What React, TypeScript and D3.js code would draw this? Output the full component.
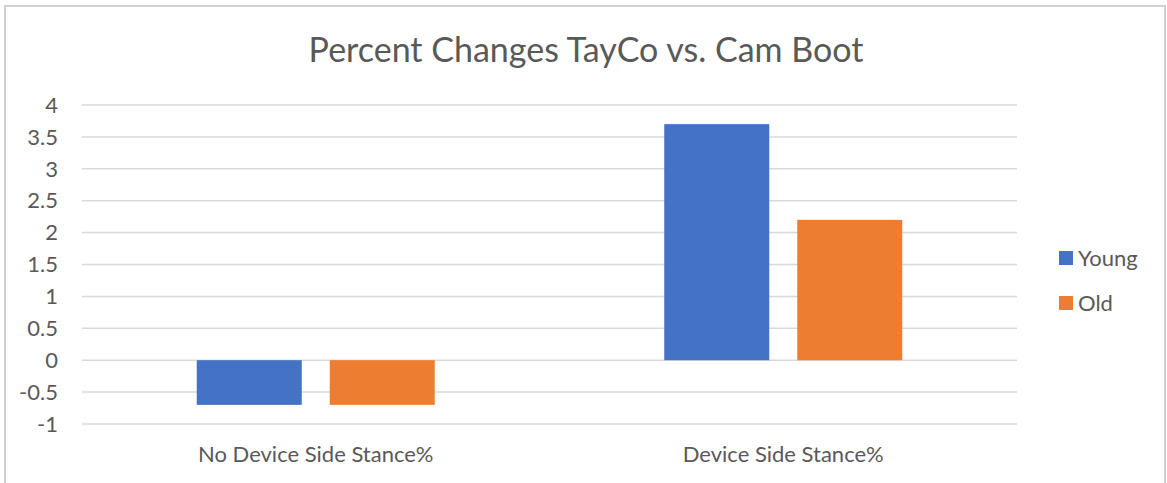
import React from "react";
import * as d3 from "d3";

const categories = ["No Device Side Stance%", "Device Side Stance%"];
const seriesNames = ["Young", "Old"];
const youngValues = [-0.7, 3.7];
const oldValues = [-0.7, 2.2];
const seriesColors = ["#4472C4", "#ED7D31"];
const yTicks = [-1, -0.5, 0, 0.5, 1, 1.5, 2, 2.5, 3, 3.5, 4];

const W = 1167;
const H = 483;
const FONT = "Lato, Carlito, Open Sans, sans-serif";

export default function App() {
  const x = d3.scaleBand<string>().domain(categories).range([82, 1017]).paddingInner(0).paddingOuter(0);
  const y = d3.scaleLinear().domain([-1, 4]).range([424, 105]);
  const groupW = 238;
  const values = [youngValues, oldValues];
  const barW = 105;
  const gap = 28;
  return (
    <div style={{ position: "absolute", left: 0, top: 0 }}>
      <svg width={W} height={H} style={{ display: "block", background: "#fff" }}>
        <rect x={5} y={6} width={1160} height={490} fill="#fff" stroke="#d0d0d0" strokeWidth={2} />
        <text x={586} y={62} textAnchor="middle" fontFamily={FONT} fontSize={34} fill="#595959">
          Percent Changes TayCo vs. Cam Boot
        </text>
        {yTicks.map((t) => (
          <g key={t}>
            <line x1={82} x2={1017} y1={y(t)} y2={y(t)} stroke="#d9d9d9" strokeWidth={1.5} />
            <text x={58} y={y(t)} dy="0.35em" textAnchor="end" fontFamily={FONT} fontSize={22} fill="#595959">
              {t}
            </text>
          </g>
        ))}
        {categories.map((c, ci) => {
          const gx = (x(c) as number) + x.bandwidth() / 2 - groupW / 2;
          return (
            <g key={c}>
              {seriesNames.map((s, si) => {
                const v = values[si][ci];
                const bx = gx + si * (barW + gap);
                return (
                  <rect
                    key={s}
                    x={bx}
                    width={barW}
                    y={Math.min(y(v), y(0))}
                    height={Math.abs(y(v) - y(0))}
                    fill={seriesColors[si]}
                  />
                );
              })}
              <text x={(x(c) as number) + x.bandwidth() / 2} y={462} textAnchor="middle" fontFamily={FONT} fontSize={22} fill="#595959">
                {c}
              </text>
            </g>
          );
        })}
        {seriesNames.map((s, si) => (
          <g key={s} transform={`translate(1059, ${251 + si * 45})`}>
            <rect x={0} y={0} width={14} height={14} fill={seriesColors[si]} />
            <text x={19} y={7} dy="0.36em" fontFamily={FONT} fontSize={22} fill="#595959">
              {s}
            </text>
          </g>
        ))}
      </svg>
    </div>
  );
}
